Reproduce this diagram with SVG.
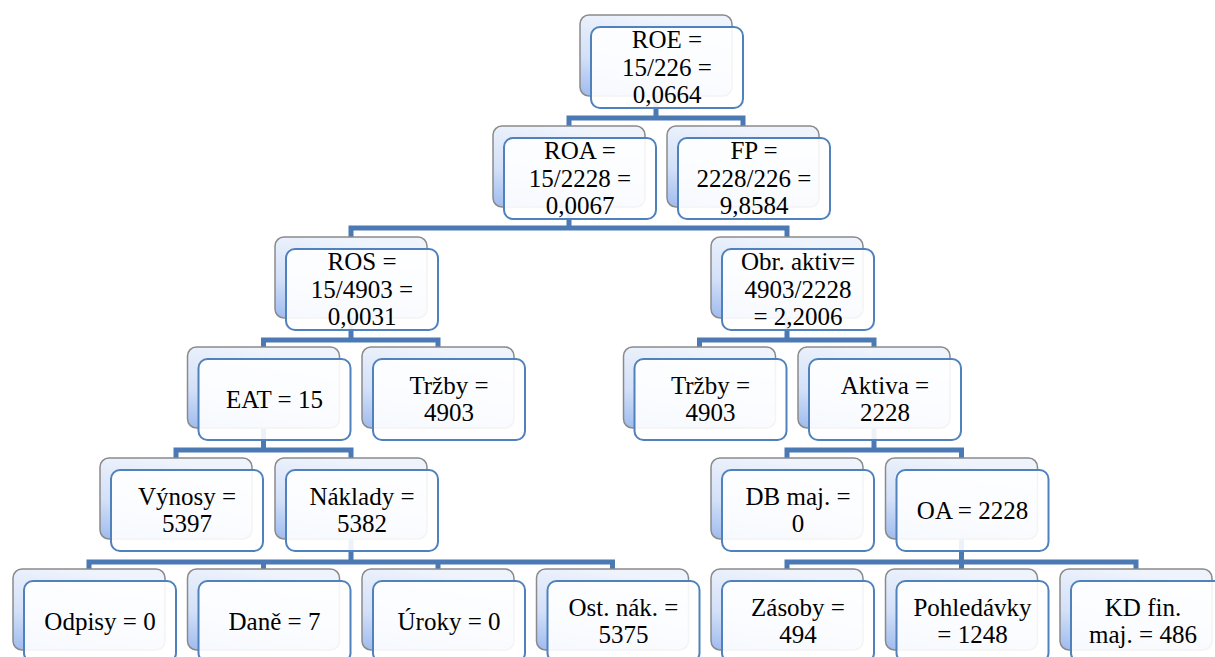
<svg xmlns="http://www.w3.org/2000/svg" width="1215" height="657" viewBox="0 0 1215 657">
<defs>
<linearGradient id="bg" x1="0.3" y1="0" x2="0" y2="1">
<stop offset="0" stop-color="#eef3fc"/>
<stop offset="0.55" stop-color="#d3e0f8"/>
<stop offset="1" stop-color="#9ebbee"/>
</linearGradient>
<style>
.back{fill:url(#bg);stroke:#8a8a8a;stroke-width:1.5}
.front{fill:#ffffff;fill-opacity:0.9;stroke:#4f81bd;stroke-width:2}
.conn{fill:none;stroke:#4a79b4;stroke-width:5;stroke-linejoin:miter}
.t{font-family:'Liberation Serif','Times New Roman',Tinos,'Noto Serif','DejaVu Serif',serif;font-size:25px;fill:#000;text-anchor:middle}
</style>
</defs>
<rect width="1215" height="657" fill="#ffffff"/>
<g id="connectors" class="conn">
<path d="M656,96 V118 H569 V127 M656,118 H743 V127"/>
<path d="M569,207 V228 H351 V237 M569,228 H787 V237"/>
<path d="M351,318 V340 H263.5 V347 M351,340 H438 V347"/>
<path d="M787,318 V340 H699.5 V347 M787,340 H874 V347"/>
<path d="M263.5,428 V450 H176 V458 M263.5,450 H351 V458"/>
<path d="M874,428 V450 H787 V458 M874,450 H961.5 V458"/>
<path d="M351,539 V562 H89 V569 M263.5,562 V569 M351,562 H612.5 V569 M438,562 V569"/>
<path d="M961.5,539 V562 H787 V569 M961.5,562 H1136 V569 M961.5,562 V569"/>
</g>
<g class="t">
<g id="roe"><rect class="back" x="580" y="15" width="152" height="81" rx="9"/><rect class="front" x="591" y="27" width="152" height="81" rx="9"/><text x="667" y="48">ROE =</text><text x="667" y="75.5">15/226 =</text><text x="667" y="103">0,0664</text></g>
<g id="roa"><rect class="back" x="493" y="126" width="152" height="81" rx="9"/><rect class="front" x="504" y="138" width="152" height="81" rx="9"/><text x="580" y="159">ROA =</text><text x="580" y="186.5">15/2228 =</text><text x="580" y="214">0,0067</text></g>
<g id="fp"><rect class="back" x="667" y="126" width="152" height="81" rx="9"/><rect class="front" x="678" y="138" width="152" height="81" rx="9"/><text x="754" y="159">FP =</text><text x="754" y="186.5">2228/226 =</text><text x="754" y="214">9,8584</text></g>
<g id="ros"><rect class="back" x="275" y="237" width="152" height="81" rx="9"/><rect class="front" x="286" y="249" width="152" height="81" rx="9"/><text x="362" y="270">ROS =</text><text x="362" y="297.5">15/4903 =</text><text x="362" y="325">0,0031</text></g>
<g id="obr-aktiv"><rect class="back" x="711" y="237" width="152" height="81" rx="9"/><rect class="front" x="722" y="249" width="152" height="81" rx="9"/><text x="798" y="270">Obr. aktiv=</text><text x="798" y="297.5">4903/2228</text><text x="798" y="325">= 2,2006</text></g>
<g id="eat"><rect class="back" x="187.5" y="347" width="152" height="81" rx="9"/><rect class="front" x="198.5" y="359" width="152" height="81" rx="9"/><text x="274.5" y="407.5">EAT = 15</text></g>
<g id="trzby-left"><rect class="back" x="362" y="347" width="152" height="81" rx="9"/><rect class="front" x="373" y="359" width="152" height="81" rx="9"/><text x="449" y="394">Tržby =</text><text x="449" y="421">4903</text></g>
<g id="trzby-right"><rect class="back" x="623.5" y="347" width="152" height="81" rx="9"/><rect class="front" x="634.5" y="359" width="152" height="81" rx="9"/><text x="710.5" y="394">Tržby =</text><text x="710.5" y="421">4903</text></g>
<g id="aktiva"><rect class="back" x="798" y="347" width="152" height="81" rx="9"/><rect class="front" x="809" y="359" width="152" height="81" rx="9"/><text x="885" y="394">Aktiva =</text><text x="885" y="421">2228</text></g>
<g id="vynosy"><rect class="back" x="100" y="458" width="152" height="81" rx="9"/><rect class="front" x="111" y="470" width="152" height="81" rx="9"/><text x="187" y="505">Výnosy =</text><text x="187" y="532">5397</text></g>
<g id="naklady"><rect class="back" x="275" y="458" width="152" height="81" rx="9"/><rect class="front" x="286" y="470" width="152" height="81" rx="9"/><text x="362" y="505">Náklady =</text><text x="362" y="532">5382</text></g>
<g id="db-maj"><rect class="back" x="711" y="458" width="152" height="81" rx="9"/><rect class="front" x="722" y="470" width="152" height="81" rx="9"/><text x="798" y="505">DB maj. =</text><text x="798" y="532">0</text></g>
<g id="oa"><rect class="back" x="885.5" y="458" width="152" height="81" rx="9"/><rect class="front" x="896.5" y="470" width="152" height="81" rx="9"/><text x="972.5" y="518.5">OA = 2228</text></g>
<g id="odpisy"><rect class="back" x="13" y="569" width="152" height="81" rx="9"/><rect class="front" x="24" y="581" width="152" height="81" rx="9"/><text x="100" y="629.5">Odpisy = 0</text></g>
<g id="dane"><rect class="back" x="187.5" y="569" width="152" height="81" rx="9"/><rect class="front" x="198.5" y="581" width="152" height="81" rx="9"/><text x="274.5" y="629.5">Daně = 7</text></g>
<g id="uroky"><rect class="back" x="362" y="569" width="152" height="81" rx="9"/><rect class="front" x="373" y="581" width="152" height="81" rx="9"/><text x="449" y="629.5">Úroky = 0</text></g>
<g id="ost-nak"><rect class="back" x="536.5" y="569" width="152" height="81" rx="9"/><rect class="front" x="547.5" y="581" width="152" height="81" rx="9"/><text x="623.5" y="616">Ost. nák. =</text><text x="623.5" y="643">5375</text></g>
<g id="zasoby"><rect class="back" x="711" y="569" width="152" height="81" rx="9"/><rect class="front" x="722" y="581" width="152" height="81" rx="9"/><text x="798" y="616">Zásoby =</text><text x="798" y="643">494</text></g>
<g id="pohledavky"><rect class="back" x="885.5" y="569" width="152" height="81" rx="9"/><rect class="front" x="896.5" y="581" width="152" height="81" rx="9"/><text x="972.5" y="616">Pohledávky</text><text x="972.5" y="643">= 1248</text></g>
<g id="kd-fin-maj"><rect class="back" x="1060" y="569" width="152" height="81" rx="9"/><rect class="front" x="1071" y="581" width="152" height="81" rx="9"/><text x="1143" y="616">KD fin.</text><text x="1143" y="643">maj. = 486</text></g>
</g>
</svg>
